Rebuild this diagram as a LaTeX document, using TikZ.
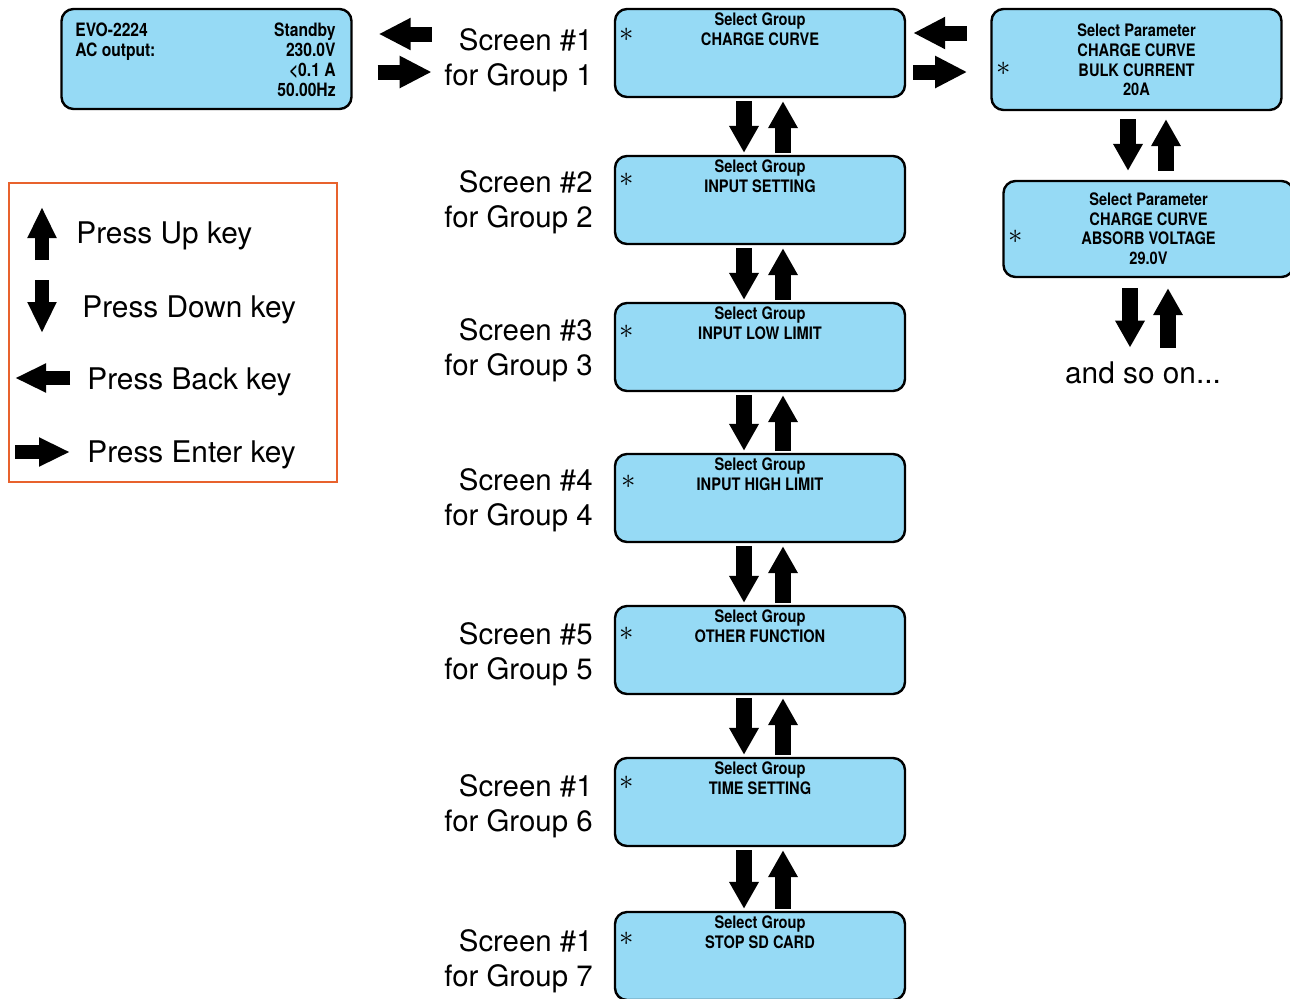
\documentclass[tikz,border=0pt]{standalone}
\usepackage{fontspec}
\setmainfont{TeX Gyre Heros}
\newfontfamily\lcdfont[FakeStretch=0.85]{TeX Gyre Heros}
\usepackage{tikz}
\usetikzlibrary{positioning}
\usetikzlibrary{arrows.meta}

\definecolor{lcdblue}{RGB}{150,218,245}
\definecolor{keyframe}{RGB}{232,98,45}

\tikzset{
  lcd/.style={draw, line width=1.2pt, fill=lcdblue, rounded corners=6pt,
    minimum width=145pt, minimum height=44pt, inner sep=0pt},
  lcdtext/.style={font=\lcdfont\bfseries\fontsize{8.6}{9.8}\selectfont, align=center, inner sep=0pt},
  cursor/.style={font=\fontsize{15}{15}\selectfont, inner sep=0pt},
  caption/.style={font=\fontsize{14.7}{17.5}\selectfont, align=right, inner sep=0pt, anchor=north east},
  keytext/.style={font=\fontsize{14.9}{17.5}\selectfont, inner sep=0pt, anchor=west},
  vkey/.style={line width=8pt, -{Triangle[width=14pt,length=13.5pt]}},
  hkey/.style={line width=7.5pt, -{Triangle[width=15pt,length=16pt]}},
  legkey/.style={line width=7pt, -{Triangle[width=13.5pt,length=15.5pt]}},
}

\begin{document}
\begin{tikzpicture}[x=0.5pt,y=-0.5pt]
\useasboundingbox (0,0) rectangle (1290,998);

% status screen
\node[lcd, minimum height=50pt] (status) at (206.5,59) {};
\node[lcdtext, font=\lcdfont\bfseries\fontsize{9.2}{10}\selectfont, align=left, anchor=north west] at (75,22.5) {EVO-2224\\AC output:};
\node[lcdtext, font=\lcdfont\bfseries\fontsize{9.2}{10}\selectfont, align=right, anchor=north east] at (336,22.5) {Standby\\230.0V\\\textless0.1 A\\50.00Hz};
\draw[hkey] ([shift={(79,-25)}]status.east) -- ([shift={(26,-25)}]status.east);
\draw[hkey] ([shift={(25,13)}]status.east) -- ([shift={(79,13)}]status.east);

% group screens
\node[lcd] (g1) at (760,53) {};
\node[lcdtext, below=2.5pt of g1.north] {Select Group\\CHARGE CURVE};
\node[cursor] at ([shift={(13,27)}]g1.north west) {$\ast$};
\node[lcd] (g2) at (760,200) {};
\node[lcdtext, below=2.5pt of g2.north] {Select Group\\INPUT SETTING};
\node[cursor] at ([shift={(13,25)}]g2.north west) {$\ast$};
\node[lcd] (g3) at (760,347) {};
\node[lcdtext, below=2.5pt of g3.north] {Select Group\\INPUT LOW LIMIT};
\node[cursor] at ([shift={(13,30)}]g3.north west) {$\ast$};
\node[lcd] (g4) at (760,498) {};
\node[lcdtext, below=2.5pt of g4.north] {Select Group\\INPUT HIGH LIMIT};
\node[cursor] at ([shift={(15,29)}]g4.north west) {$\ast$};
\node[lcd] (g5) at (760,650) {};
\node[lcdtext, below=2.5pt of g5.north] {Select Group\\OTHER FUNCTION};
\node[cursor] at ([shift={(13,29)}]g5.north west) {$\ast$};
\node[lcd] (g6) at (760,802) {};
\node[lcdtext, below=2.5pt of g6.north] {Select Group\\TIME SETTING};
\node[cursor] at ([shift={(13,26)}]g6.north west) {$\ast$};
\node[lcd] (g7) at (760,956) {};
\node[lcdtext, below=2.5pt of g7.north] {Select Group\\STOP SD CARD};
\node[cursor] at ([shift={(13,28)}]g7.north west) {$\ast$};

% screen captions
\node[caption] (l1) at (593,28.5) {Screen \#1\\for Group 1};
\node[caption] (l2) at (593,170.5) {Screen \#2\\for Group 2};
\node[caption] (l3) at (593,318.5) {Screen \#3\\for Group 3};
\node[caption] (l4) at (593,468.5) {Screen \#4\\for Group 4};
\node[caption] (l5) at (593,622.5) {Screen \#5\\for Group 5};
\node[caption] (l6) at (593,774.5) {Screen \#1\\for Group 6};
\node[caption] (l7) at (593,929.5) {Screen \#1\\for Group 7};

% up / down between groups
\draw[vkey, shorten <=1.5pt, shorten >=1pt] ([xshift=-8pt]g1.south) -- ([xshift=-8pt]g2.north);
\draw[vkey, shorten <=1pt, shorten >=1.5pt] ([xshift=11.5pt]g2.north) -- ([xshift=11.5pt]g1.south);
\draw[vkey, shorten <=1.5pt, shorten >=1pt] ([xshift=-8pt]g2.south) -- ([xshift=-8pt]g3.north);
\draw[vkey, shorten <=1pt, shorten >=1.5pt] ([xshift=11.5pt]g3.north) -- ([xshift=11.5pt]g2.south);
\draw[vkey, shorten <=1.5pt, shorten >=1pt] ([xshift=-8pt]g3.south) -- ([xshift=-8pt]g4.north);
\draw[vkey, shorten <=1pt, shorten >=1.5pt] ([xshift=11.5pt]g4.north) -- ([xshift=11.5pt]g3.south);
\draw[vkey, shorten <=1.5pt, shorten >=1pt] ([xshift=-8pt]g4.south) -- ([xshift=-8pt]g5.north);
\draw[vkey, shorten <=1pt, shorten >=1.5pt] ([xshift=11.5pt]g5.north) -- ([xshift=11.5pt]g4.south);
\draw[vkey, shorten <=1.5pt, shorten >=1pt] ([xshift=-8pt]g5.south) -- ([xshift=-8pt]g6.north);
\draw[vkey, shorten <=1pt, shorten >=1.5pt] ([xshift=11.5pt]g6.north) -- ([xshift=11.5pt]g5.south);
\draw[vkey, shorten <=1.5pt, shorten >=1pt] ([xshift=-8pt]g6.south) -- ([xshift=-8pt]g7.north);
\draw[vkey, shorten <=1pt, shorten >=1.5pt] ([xshift=11.5pt]g7.north) -- ([xshift=11.5pt]g6.south);

% parameter screens
\node[lcd, minimum height=50.5pt] (p1) at (1136.5,59.5) {};
\node[lcdtext, below=8pt of p1.north] {Select Parameter\\CHARGE CURVE\\BULK CURRENT\\20A};
\node[cursor] at ([shift={(13,61)}]p1.north west) {$\ast$};
\node[lcd, minimum height=48pt] (p2) at (1148.5,229) {};
\node[lcdtext, below=6.25pt of p2.north] {Select Parameter\\CHARGE CURVE\\ABSORB VOLTAGE\\29.0V};
\node[cursor] at ([shift={(13,57)}]p2.north west) {$\ast$};
\node[font=\fontsize{14.9}{17.5}\selectfont, inner sep=0pt] (more) at (1143,373) {and so on...};

\draw[hkey] ([shift={(61,-20)}]g1.east) -- ([shift={(7,-20)}]g1.east);
\draw[hkey] ([shift={(7,19)}]g1.east) -- ([shift={(61,19)}]g1.east);
\draw[vkey, shorten <=4pt, shorten >=4.5pt] ([xshift=-4.25pt]p1.south) -- ([xshift=-10.25pt]p2.north);
\draw[vkey, shorten <=4.5pt, shorten >=4pt] ([xshift=8.75pt]p2.north) -- ([xshift=14.75pt]p1.south);
\draw[vkey, shorten <=5pt, shorten >=7pt] ([xshift=-9.25pt]p2.south) -- ([xshift=-6.5pt]more.north);
\draw[vkey, shorten <=7pt, shorten >=5pt] ([xshift=12.5pt]more.north) -- ([xshift=9.75pt]p2.south);

% key legend
\node[draw=keyframe, line width=1pt, minimum width=164pt, minimum height=149.5pt, inner sep=0pt] (legend) at (173,332.5) {};
\draw[legkey] (42,260) -- (42,207);
\node[keytext] at (76,236) {Press Up key};
\draw[legkey] (42,280) -- (42,333);
\node[keytext] at (82,310) {Press Down key};
\draw[legkey] (70,378) -- (15,378);
\node[keytext] at (87,382) {Press Back key};
\draw[legkey] (15,452) -- (70,452);
\node[keytext] at (87,455) {Press Enter key};
\end{tikzpicture}
\end{document}
